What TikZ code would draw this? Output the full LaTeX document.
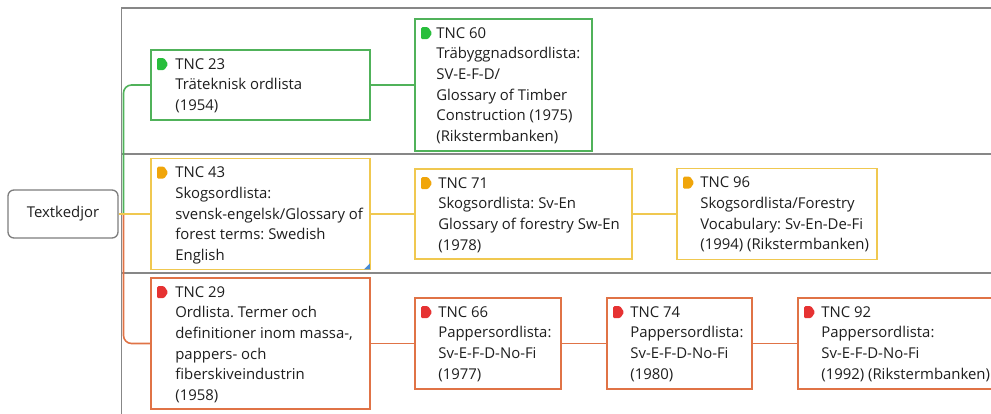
\documentclass[tikz,border=0pt]{standalone}
\usepackage{fontspec}
\setmainfont{Open Sans}
\definecolor{grnline}{RGB}{80,178,90}
\definecolor{grntag}{RGB}{40,190,60}
\definecolor{yelline}{RGB}{240,200,80}
\definecolor{yeltag}{RGB}{240,165,10}
\definecolor{orgline}{RGB}{224,115,70}
\definecolor{redtag}{RGB}{230,50,50}
\definecolor{frameg}{RGB}{135,135,135}
\definecolor{rootg}{RGB}{125,125,125}
\definecolor{txtc}{RGB}{30,30,30}
\definecolor{cornerblue}{RGB}{70,140,215}
\tikzset{
  tncbox/.style={draw=#1, line width=1.7pt, fill=white, inner sep=0pt},
  tnctxt/.style={anchor=north west, inner sep=0pt, align=left, text=txtc,
    font=\fontsize{14.9}{20.6}\selectfont},
  conn/.style={draw=#1, line width=1.6pt},
  framel/.style={draw=frameg, line width=1.2pt},
  tagshape/.style={fill=#1, rounded corners=1.2pt},
}
\newcommand\firststrut{\rule{0pt}{12pt}}
\frenchspacing
\begin{document}
\frenchspacing
\begin{tikzpicture}[x=1pt,y=-1pt]
\useasboundingbox (0,0) rectangle (991,414);
\clip (0,0) rectangle (991,414);
% frame
\draw[framel] (121.5,414) -- (121.5,8) -- (991,8);
\draw[framel] (121.5,154) -- (991,154);
\draw[framel] (121.5,273) -- (991,273);

% root
\node[draw=rootg, line width=1.3pt, rounded corners=6pt, fill=white,
  minimum width=110pt, minimum height=48pt, inner sep=0pt, text=txtc,
  font=\fontsize{14.9}{18}\selectfont] (root) at (63,214) {Textkedjor};

% boxes
\node[tncbox=grnline, minimum width=219pt, minimum height=70pt] (t23) at (260.5,85) {};
\node[tncbox=grnline, minimum width=177pt, minimum height=132pt] (t60) at (503.5,85) {};
\node[tncbox=yelline, minimum width=219pt, minimum height=111pt] (t43) at (260.5,214) {};
\node[tncbox=yelline, minimum width=217pt, minimum height=90pt] (t71) at (523.5,214) {};
\node[tncbox=yelline, minimum width=200pt, minimum height=91pt] (t96) at (777,214) {};
\node[tncbox=orgline, minimum width=219pt, minimum height=131pt] (t29) at (260.5,343.5) {};
\node[tncbox=orgline, minimum width=146pt, minimum height=91pt] (t66) at (488,343.5) {};
\node[tncbox=orgline, minimum width=145pt, minimum height=91pt] (t74) at (679.5,343.5) {};
\node[tncbox=orgline, minimum width=202pt, minimum height=91pt] (t92) at (899,343.5) {};

% connectors
\coordinate (j) at (123.5,214);
\draw[conn=grnline, rounded corners=8pt] (j) |- (t23.west);
\draw[conn=orgline, rounded corners=8pt] (j) |- (t29.west);
\draw[conn=yelline] (root.east) -- (t43.west);
\draw[conn=grnline] (t23.east) -- (t60.west);
\draw[conn=yelline] (t43.east) -- (t71.west);
\draw[conn=yelline] (t71.east) -- (t96.west);
\draw[conn=orgline] (t29.east) -- (t66.west);
\draw[conn=orgline] (t66.east) -- (t74.west);
\draw[conn=orgline] (t74.east) -- (t92.west);

% tags
\foreach \b/\c in {t23/grntag,t60/grntag,t43/yeltag,t71/yeltag,t96/yeltag,t29/redtag,t66/redtag,t74/redtag,t92/redtag}{
  \fill[tagshape=\c] ([shift={(7,9)}]\b.north west) -- ++(7,0) -- ++(4,6) -- ++(-4,6) -- ++(-7,0) -- cycle;
}
% corner marker
\fill[cornerblue] ([shift={(-0.9,-0.9)}]t43.south east) -- ++(-6,0) -- ++(6,-6) -- cycle;

% texts
\node[tnctxt] (t23l) at ([shift={(25,8)}]t23.north west) {\firststrut TNC 23\\Träteknisk ordlista\\(1954)};
\node[tnctxt] (t60l) at ([shift={(22,8)}]t60.north west) {\firststrut TNC 60\\Träbyggnadsordlista:\\SV-E-F-D/\\Glossary of Timber\\Construction (1975)\\(Rikstermbanken)};
\node[tnctxt] (t43l) at ([shift={(25,8)}]t43.north west) {\firststrut TNC 43\\Skogsordlista:\\svensk-engelsk/Glossary of\\forest terms: Swedish\\English};
\node[tnctxt] (t71l) at ([shift={(24,8)}]t71.north west) {\firststrut TNC 71\\Skogsordlista: Sv-En\\Glossary of forestry Sw-En\\(1978)};
\node[tnctxt] (t96l) at ([shift={(24,8)}]t96.north west) {\firststrut TNC 96\\Skogsordlista/Forestry\\Vocabulary: Sv-En-De-Fi\\(1994) (Rikstermbanken)};
\node[tnctxt] (t29l) at ([shift={(25,8)}]t29.north west) {\firststrut TNC 29\\Ordlista. Termer och\\definitioner inom massa-,\\pappers- och\\fiberskiveindustrin\\(1958)};
\node[tnctxt] (t66l) at ([shift={(24,8)}]t66.north west) {\firststrut TNC 66\\Pappersordlista:\\Sv-E-F-D-No-Fi\\(1977)};
\node[tnctxt] (t74l) at ([shift={(24,8)}]t74.north west) {\firststrut TNC 74\\Pappersordlista:\\Sv-E-F-D-No-Fi\\(1980)};
\node[tnctxt] (t92l) at ([shift={(24,8)}]t92.north west) {\firststrut TNC 92\\Pappersordlista:\\Sv-E-F-D-No-Fi\\(1992) (Rikstermbanken)};
\end{tikzpicture}
\end{document}
